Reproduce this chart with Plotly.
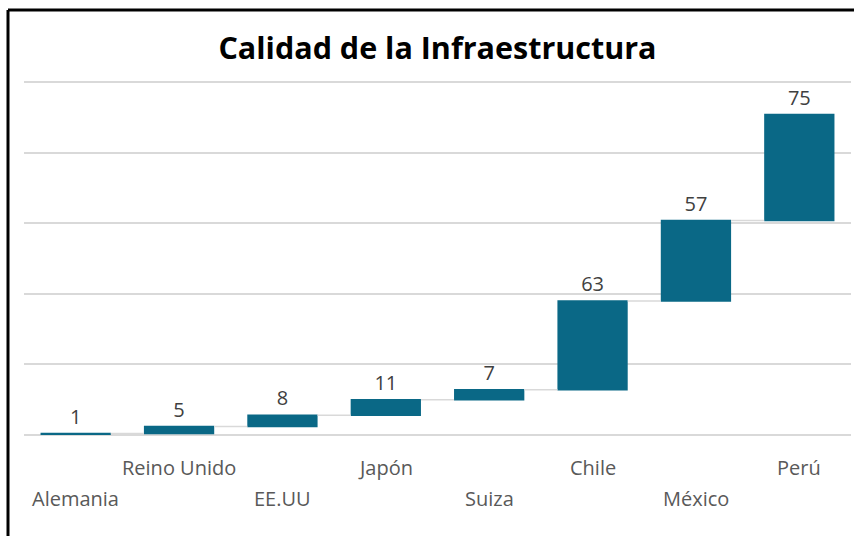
import plotly.graph_objects as go

countries = ["Alemania", "Reino Unido", "EE.UU", "Japón", "Suiza", "Chile", "México", "Perú"]
values = [1, 5, 8, 11, 7, 63, 57, 75]
y_max = 250
grid_step = 50

W, H = 854, 536
base_px, top_px = 435, 82           # pixel rows of 0 and y_max
unit = (base_px - top_px) / y_max
y_top = 255
ml, mr = 24, 3
mb = H - base_px
mt = int(round(base_px - y_top * unit))
pw = W - ml - mr
ph = H - mt - mb

def px_x(p):
    return (p - ml) / pw

def px_y(p):
    return (H - mb - p) / ph

fig = go.Figure()
fig.add_trace(go.Waterfall(
    x=countries,
    y=values,
    measure=["relative"] * len(values),
    text=[str(v) for v in values],
    textposition="outside",
    textfont=dict(family="Open Sans", size=20, color="#404040"),
    increasing=dict(marker=dict(color="#0A6886", line=dict(color="#0A6886", width=0))),
    connector=dict(line=dict(color="#D9D9D9", width=1.5)),
    width=0.68,
    cliponaxis=False,
    hoverinfo="skip",
))

annotations = []
for i, c in enumerate(countries):
    ypix = 468 if i % 2 == 1 else 498
    annotations.append(dict(
        x=c, xref="x", y=px_y(ypix), yref="paper",
        text=c, showarrow=False,
        font=dict(family="Open Sans", size=20, color="#595959"),
        xanchor="center", yanchor="middle",
    ))

fig.update_layout(
    width=W, height=H,
    margin=dict(l=ml, r=mr, t=mt, b=mb),
    paper_bgcolor="white", plot_bgcolor="white",
    title=dict(text="<b>Calidad de la Infraestructura</b>",
               font=dict(family="Open Sans", size=30.5, color="#000000"),
               x=0.5, xref="paper", xanchor="center",
               y=1 - 48 / H, yref="container", yanchor="middle"),
    xaxis=dict(showticklabels=False, showgrid=False, zeroline=False, showline=False,
               range=[-0.5, len(countries) - 0.5]),
    yaxis=dict(range=[0, y_top], dtick=grid_step, tick0=0, showticklabels=False,
               showgrid=True, gridcolor="#D9D9D9", gridwidth=1.5,
               zeroline=True, zerolinecolor="#D9D9D9", zerolinewidth=1.5, showline=False),
    annotations=annotations,
    showlegend=False,
    shapes=[
        dict(type="line", xref="paper", yref="paper",
             x0=px_x(8), x1=px_x(854), y0=px_y(10), y1=px_y(10),
             line=dict(color="black", width=3)),
        dict(type="line", xref="paper", yref="paper",
             x0=px_x(8), x1=px_x(8), y0=px_y(10), y1=px_y(540),
             line=dict(color="black", width=3)),
    ],
)

fig.write_html("out.html", config={"displayModeBar": False},
               post_script="document.body.style.margin='0';document.body.style.overflow='hidden';")
